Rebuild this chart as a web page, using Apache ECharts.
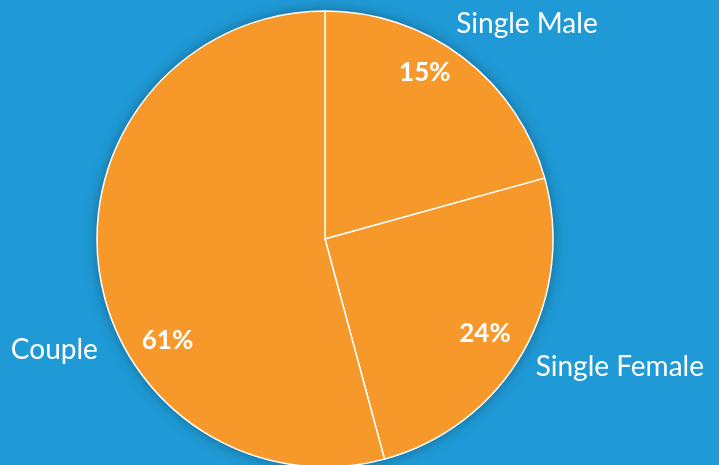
<!DOCTYPE html>
<html>
<head>
<meta charset="utf-8">
<script src="https://cdn.jsdelivr.net/npm/echarts@6/dist/echarts.min.js"></script>
<style>
html,body{margin:0;padding:0;background:#1f9ad6;}
#chart{width:719px;height:465px;}
</style>
</head>
<body>
<div id="chart"></div>
<script>
// ---- data ----
const categories = ['Single Male', 'Single Female', 'Couple'];
const shownPercents = [15, 24, 61];          // percentages printed on the slices
const sliceShares = [20.7, 25.1, 54.2];      // slice sizes as drawn in the picture

// ---- layout ----
const CX = 325, CY = 239, R = 228;
const percentLabelPolar = [[31, 0.85], [120.7, 0.816], [237.1, 0.823]];
const nameLabelPolar = [[43.2, 1.294], [113.5, 1.41], [247.7, 1.283]];

function polar(p) {
  const a = p[0] * Math.PI / 180, r = p[1] * R;
  return { x: CX + r * Math.sin(a), y: CY - r * Math.cos(a) };
}

const pieData = categories.map((c, i) => ({ name: c, value: sliceShares[i] }));
const fontFamily = 'Lato, "Open Sans", sans-serif';
const basePie = {
  type: 'pie',
  center: [CX, CY],
  radius: [0, R],
  startAngle: 90,
  clockwise: true,
  data: pieData,
  emphasis: { disabled: true },
  labelLine: { show: false }
};

const chart = echarts.init(document.getElementById('chart'));
chart.setOption({
  backgroundColor: '#1f9ad6',
  animation: false,
  series: [
    Object.assign({}, basePie, {
      silent: true,
      itemStyle: {
        color: '#f7992a',
        borderWidth: 0,
        shadowBlur: 14,
        shadowColor: 'rgba(0,0,0,0.35)'
      },
      label: { show: false }
    }),
    Object.assign({}, basePie, {
      itemStyle: {
        color: '#f7992a',
        borderColor: '#ffffff',
        borderWidth: 1.5
      },
      label: {
        show: true,
        position: 'inside',
        color: '#ffffff',
        fontFamily: fontFamily,
        fontWeight: 'bold',
        fontSize: 26,
        formatter: p => shownPercents[p.dataIndex] + '%'
      },
      labelLayout: p => {
        const pt = polar(percentLabelPolar[p.dataIndex]);
        return { x: pt.x, y: pt.y, align: 'center', verticalAlign: 'middle' };
      }
    }),
    Object.assign({}, basePie, {
      silent: true,
      itemStyle: { color: 'rgba(0,0,0,0)', borderWidth: 0 },
      label: {
        show: true,
        position: 'inside',
        color: '#ffffff',
        fontFamily: fontFamily,
        fontSize: 28,
        formatter: p => p.name
      },
      labelLayout: p => {
        const pt = polar(nameLabelPolar[p.dataIndex]);
        return { x: pt.x, y: pt.y, align: 'center', verticalAlign: 'middle' };
      }
    })
  ]
});
</script>
</body>
</html>
